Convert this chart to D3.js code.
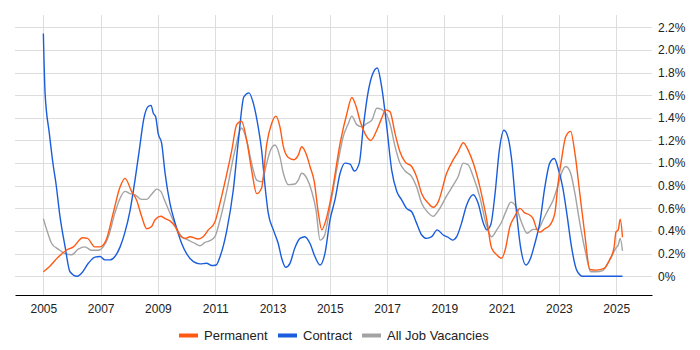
<!DOCTYPE html>
<html>
<head>
<meta charset="utf-8">
<script src="https://cdn.jsdelivr.net/npm/d3@7"></script>
<style>
  body { margin: 0; background: #fff; }
  svg { font-family: "Liberation Sans", Arial, sans-serif; }
</style>
</head>
<body>
<div id="chart"></div>
<script>
// decimal years and % values
const permYears = [2005.0, 2005.21, 2005.52, 2005.8, 2006.05, 2006.37, 2006.54, 2006.8, 2006.98, 2007.19, 2007.44, 2007.68, 2007.85, 2008.08, 2008.26, 2008.43, 2008.61, 2008.78, 2008.9, 2009.1, 2009.25, 2009.42, 2009.6, 2009.77, 2009.95, 2010.12, 2010.41, 2010.58, 2010.76, 2010.99, 2011.17, 2011.4, 2011.58, 2011.75, 2011.92, 2012.1, 2012.27, 2012.45, 2012.62, 2012.8, 2012.97, 2013.12, 2013.26, 2013.38, 2013.55, 2013.75, 2013.9, 2014.02, 2014.17, 2014.31, 2014.46, 2014.6, 2014.72, 2014.87, 2015.07, 2015.36, 2015.6, 2015.77, 2015.92, 2016.06, 2016.23, 2016.43, 2016.64, 2016.81, 2016.95, 2017.1, 2017.28, 2017.45, 2017.63, 2017.86, 2018.03, 2018.21, 2018.44, 2018.61, 2018.79, 2019.08, 2019.31, 2019.48, 2019.66, 2019.83, 2020.01, 2020.24, 2020.48, 2020.65, 2020.83, 2021.0, 2021.12, 2021.29, 2021.46, 2021.64, 2021.81, 2021.99, 2022.1, 2022.22, 2022.33, 2022.51, 2022.68, 2022.86, 2022.97, 2023.09, 2023.24, 2023.41, 2023.56, 2023.73, 2023.9, 2024.08, 2024.3, 2024.58, 2024.76, 2024.93, 2024.99, 2025.07, 2025.14, 2025.22];
const permValues = [0.04, 0.085, 0.17, 0.23, 0.26, 0.34, 0.335, 0.26, 0.26, 0.32, 0.56, 0.79, 0.865, 0.75, 0.67, 0.53, 0.42, 0.44, 0.50, 0.53, 0.51, 0.49, 0.44, 0.36, 0.335, 0.35, 0.33, 0.35, 0.41, 0.48, 0.65, 0.90, 1.115, 1.34, 1.37, 1.20, 0.94, 0.73, 0.78, 1.17, 1.35, 1.415, 1.32, 1.145, 1.05, 1.03, 1.07, 1.145, 1.085, 0.97, 0.835, 0.56, 0.41, 0.50, 0.73, 1.175, 1.44, 1.58, 1.50, 1.37, 1.26, 1.20, 1.29, 1.395, 1.47, 1.455, 1.26, 1.10, 1.01, 0.97, 0.88, 0.73, 0.645, 0.61, 0.66, 0.91, 1.03, 1.10, 1.18, 1.115, 1.00, 0.79, 0.50, 0.25, 0.19, 0.16, 0.23, 0.44, 0.53, 0.60, 0.56, 0.54, 0.51, 0.42, 0.39, 0.42, 0.45, 0.56, 0.82, 1.03, 1.235, 1.28, 1.085, 0.73, 0.38, 0.06, 0.055, 0.07, 0.14, 0.26, 0.39, 0.41, 0.505, 0.345];

const contYears = [2005.0, 2005.06, 2005.21, 2005.35, 2005.44, 2005.58, 2005.76, 2005.93, 2006.17, 2006.34, 2006.57, 2006.8, 2006.98, 2007.15, 2007.33, 2007.5, 2007.68, 2007.85, 2008.03, 2008.2, 2008.35, 2008.51, 2008.66, 2008.76, 2008.84, 2008.92, 2009.01, 2009.13, 2009.25, 2009.42, 2009.6, 2009.83, 2010.0, 2010.24, 2010.47, 2010.7, 2010.88, 2011.03, 2011.17, 2011.4, 2011.63, 2011.81, 2012.0, 2012.18, 2012.33, 2012.5, 2012.62, 2012.73, 2012.85, 2013.03, 2013.2, 2013.32, 2013.46, 2013.61, 2013.78, 2013.96, 2014.13, 2014.31, 2014.48, 2014.66, 2014.83, 2015.01, 2015.18, 2015.36, 2015.53, 2015.71, 2015.86, 2016.03, 2016.17, 2016.34, 2016.5, 2016.66, 2016.81, 2016.99, 2017.16, 2017.34, 2017.51, 2017.68, 2017.86, 2018.03, 2018.21, 2018.38, 2018.56, 2018.75, 2018.96, 2019.13, 2019.29, 2019.43, 2019.6, 2019.78, 2020.01, 2020.18, 2020.36, 2020.48, 2020.62, 2020.77, 2020.92, 2021.08, 2021.23, 2021.35, 2021.5, 2021.66, 2021.85, 2022.01, 2022.16, 2022.33, 2022.51, 2022.68, 2022.84, 2022.97, 2023.13, 2023.29, 2023.44, 2023.62, 2023.83, 2024.2, 2024.6, 2025.0, 2025.22];
const contValues = [2.145, 1.62, 1.26, 0.97, 0.82, 0.53, 0.26, 0.04, 0.0, 0.03, 0.115, 0.17, 0.175, 0.145, 0.145, 0.175, 0.26, 0.39, 0.585, 0.85, 1.115, 1.395, 1.50, 1.51, 1.44, 1.41, 1.26, 1.175, 0.91, 0.645, 0.47, 0.29, 0.20, 0.13, 0.11, 0.115, 0.095, 0.10, 0.175, 0.40, 0.76, 1.20, 1.585, 1.62, 1.53, 1.32, 1.115, 0.82, 0.56, 0.41, 0.29, 0.16, 0.08, 0.115, 0.25, 0.335, 0.35, 0.29, 0.175, 0.10, 0.20, 0.50, 0.675, 0.91, 1.00, 0.99, 0.93, 1.00, 1.32, 1.63, 1.79, 1.84, 1.675, 1.32, 0.94, 0.75, 0.675, 0.60, 0.57, 0.47, 0.365, 0.335, 0.35, 0.41, 0.365, 0.345, 0.32, 0.35, 0.47, 0.63, 0.72, 0.645, 0.47, 0.41, 0.455, 0.73, 1.115, 1.29, 1.22, 1.03, 0.615, 0.26, 0.10, 0.16, 0.29, 0.47, 0.79, 1.00, 1.04, 0.955, 0.79, 0.53, 0.26, 0.055, 0.0, 0.0, 0.0, 0.0, 0.0];

const allYears = [2005.0, 2005.12, 2005.29, 2005.52, 2005.76, 2005.99, 2006.22, 2006.45, 2006.69, 2006.92, 2007.09, 2007.27, 2007.5, 2007.68, 2007.85, 2008.03, 2008.2, 2008.43, 2008.61, 2008.78, 2008.96, 2009.1, 2009.25, 2009.42, 2009.6, 2009.83, 2010.06, 2010.29, 2010.47, 2010.64, 2010.82, 2010.99, 2011.17, 2011.4, 2011.69, 2011.92, 2012.1, 2012.27, 2012.45, 2012.62, 2012.8, 2012.91, 2013.09, 2013.26, 2013.38, 2013.55, 2013.78, 2013.9, 2014.02, 2014.2, 2014.37, 2014.52, 2014.66, 2014.8, 2015.01, 2015.24, 2015.47, 2015.65, 2015.77, 2015.94, 2016.12, 2016.29, 2016.47, 2016.64, 2016.81, 2016.99, 2017.1, 2017.28, 2017.45, 2017.63, 2017.86, 2018.03, 2018.21, 2018.44, 2018.61, 2018.79, 2019.08, 2019.31, 2019.48, 2019.66, 2019.83, 2020.01, 2020.24, 2020.45, 2020.65, 2020.83, 2021.0, 2021.17, 2021.32, 2021.5, 2021.69, 2021.89, 2022.1, 2022.27, 2022.45, 2022.62, 2022.8, 2022.97, 2023.09, 2023.24, 2023.41, 2023.56, 2023.73, 2023.94, 2024.11, 2024.3, 2024.53, 2024.7, 2024.87, 2024.99, 2025.07, 2025.14, 2025.22];
const allValues = [0.51, 0.41, 0.29, 0.24, 0.20, 0.19, 0.24, 0.26, 0.23, 0.23, 0.26, 0.35, 0.56, 0.69, 0.75, 0.73, 0.72, 0.68, 0.68, 0.725, 0.77, 0.75, 0.66, 0.56, 0.455, 0.35, 0.32, 0.29, 0.27, 0.30, 0.315, 0.35, 0.50, 0.75, 1.115, 1.31, 1.20, 1.00, 0.85, 0.835, 1.00, 1.10, 1.16, 1.055, 0.91, 0.81, 0.815, 0.85, 0.91, 0.865, 0.75, 0.585, 0.32, 0.35, 0.615, 0.94, 1.235, 1.35, 1.415, 1.34, 1.32, 1.35, 1.38, 1.485, 1.475, 1.425, 1.35, 1.145, 1.00, 0.93, 0.88, 0.79, 0.645, 0.56, 0.53, 0.58, 0.71, 0.805, 0.88, 1.00, 0.985, 0.88, 0.70, 0.47, 0.35, 0.41, 0.48, 0.585, 0.655, 0.615, 0.48, 0.38, 0.415, 0.415, 0.50, 0.585, 0.675, 0.805, 0.91, 0.97, 0.91, 0.73, 0.47, 0.20, 0.04, 0.04, 0.05, 0.115, 0.19, 0.25, 0.275, 0.335, 0.225];

const yearTicks = [2005, 2007, 2009, 2011, 2013, 2015, 2017, 2019, 2021, 2023, 2025];
const pctTicks = [0, 0.2, 0.4, 0.6, 0.8, 1.0, 1.2, 1.4, 1.6, 1.8, 2.0, 2.2];

const seriesNames = ["Permanent", "Contract", "All Job Vacancies"];
const seriesColors = ["#ff5a14", "#1a5ddc", "#a3a3a3"];

const width = 700, height = 350;
const margin = { top: 15, right: 48, bottom: 55, left: 15 };
const innerW = width - margin.left - margin.right;
const innerH = height - margin.top - margin.bottom;

const svg = d3.select("#chart").append("svg")
  .attr("width", width)
  .attr("height", height);

const g = svg.append("g")
  .attr("transform", `translate(${margin.left},${margin.top})`);

const x = d3.scaleLinear().domain([2004.01, 2026.25]).range([0, innerW]);
const y = d3.scaleLinear().domain([-0.165, 2.308]).range([innerH, 0]);

// horizontal grid
g.append("g").selectAll("line")
  .data(pctTicks)
  .enter().append("line")
  .attr("x1", 0).attr("x2", innerW)
  .attr("y1", d => Math.round(y(d)) + 0.5)
  .attr("y2", d => Math.round(y(d)) + 0.5)
  .attr("stroke", "#dddddd");

// vertical grid
g.append("g").selectAll("line")
  .data(yearTicks)
  .enter().append("line")
  .attr("y1", 0).attr("y2", innerH)
  .attr("x1", d => Math.round(x(d)) + 0.5)
  .attr("x2", d => Math.round(x(d)) + 0.5)
  .attr("stroke", "#dddddd");

// right y labels
const yAxis = g.append("g")
  .attr("transform", `translate(${innerW},0)`)
  .call(d3.axisRight(y).tickValues(pctTicks).tickSize(0).tickPadding(6)
    .tickFormat(d => d === 0 ? "0%" : d.toFixed(1) + "%"));
yAxis.select(".domain").remove();
yAxis.selectAll("text").style("font-size", "12px").attr("fill", "#222");

// bottom x axis
const xAxis = g.append("g")
  .attr("transform", `translate(0,${innerH})`)
  .call(d3.axisBottom(x).tickValues(yearTicks).tickSize(0).tickPadding(9).tickFormat(d3.format("d")));
xAxis.select(".domain").attr("stroke", "#000");
xAxis.selectAll("text").style("font-size", "12px").attr("fill", "#222");

const line = d3.line()
  .x(d => x(d[0]))
  .y(d => y(d[1]))
  .curve(d3.curveMonotoneX);

const series = [
  d3.zip(allYears, allValues),
  d3.zip(contYears, contValues),
  d3.zip(permYears, permValues)
];
const seriesColorOrder = [seriesColors[2], seriesColors[1], seriesColors[0]];

series.forEach((s, i) => {
  g.append("path")
    .datum(s)
    .attr("fill", "none")
    .attr("stroke", seriesColorOrder[i])
    .attr("stroke-width", 1.4)
    .attr("d", line);
});

// legend
const legendX = [179, 278, 362];
const legend = svg.append("g").attr("transform", "translate(0,335)");
seriesNames.forEach((name, i) => {
  legend.append("rect")
    .attr("x", legendX[i]).attr("y", -1.5)
    .attr("width", 19).attr("height", 4)
    .attr("fill", seriesColors[i]);
  legend.append("text")
    .attr("x", legendX[i] + 25).attr("y", 5)
    .style("font-size", "13px")
    .attr("fill", "#222")
    .text(name);
});
</script>
</body>
</html>
